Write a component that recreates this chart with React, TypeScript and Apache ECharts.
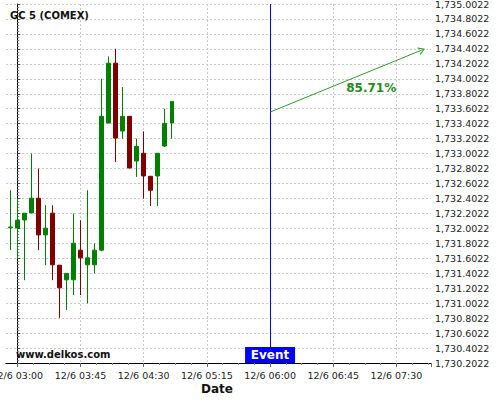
import React, { useEffect, useRef } from 'react';
import * as echarts from 'echarts';

// 5-minute candles, 12/6
const candleTimes = ['02:55','03:00','03:05','03:10','03:15','03:20','03:25','03:30','03:35','03:40','03:45','03:50','03:55','04:00','04:05','04:10','04:15','04:20','04:25','04:30','04:35','04:40','04:45','04:50'];
const opens  = [1732.010,1732.008,1732.115,1732.209,1732.405,1731.915,1732.205,1731.510,1731.314,1731.314,1731.711,1731.515,1731.515,1731.711,1733.411,1734.211,1733.304,1733.500,1732.903,1733.006,1732.699,1732.703,1733.103,1733.411];
const closes = [1732.020,1732.111,1732.205,1732.405,1731.915,1732.005,1731.515,1731.207,1731.400,1731.804,1731.608,1731.608,1731.711,1733.500,1734.211,1733.210,1733.500,1732.810,1733.099,1732.703,1732.512,1733.006,1733.406,1733.700];
const lows   = [1731.711,1731.600,1731.310,1732.205,1731.711,1731.510,1731.310,1730.807,1730.910,1731.110,1731.110,1730.999,1731.400,1731.697,1733.411,1732.890,1733.202,1732.802,1732.690,1732.401,1732.302,1732.302,1733.090,1733.202];
const highs  = [1732.512,1732.401,1732.205,1733.002,1732.802,1732.312,1732.312,1731.510,1731.400,1732.201,1732.111,1732.512,1731.800,1734.003,1734.301,1734.404,1733.891,1733.500,1733.202,1733.300,1732.700,1733.006,1733.602,1733.700];

const eventTime = '06:00';
const eventLabel = 'Event';
const arrowStart = { time: '06:00', price: 1733.557 };
const arrowEnd = { time: '07:48', price: 1734.386 };
const arrowText = '85.71%';
const arrowTextPos = { time: '07:12', price: 1733.874 };

const titleText = 'GC 5 (COMEX)';
const watermark = 'www.delkos.com';
const xAxisName = 'Date';
const datePrefix = '12/6';

const yMin = 1730.2022;
const yMax = 1735.002;
const yStep = 0.2;
const xTickStepMin = 45;

const BASE_MIN = 180; // 03:00 reference
const toMin = (t: string) => {
  const [h, m] = t.split(':').map(Number);
  return h * 60 + m - BASE_MIN;
};
const pad = (n: number) => (n < 10 ? '0' + n : '' + n);

const FONT = '"DejaVu Sans", sans-serif';

export default function App() {
  const ref = useRef<HTMLDivElement>(null);
  useEffect(() => {
    if (!ref.current) return;
    const chart = echarts.init(ref.current, undefined, { renderer: 'svg' });
    const candleData = candleTimes.map((t, i) => [toMin(t), opens[i], closes[i], lows[i], highs[i]]);
    const chevron = 'path://M5,0 L10,8 L9,8.9 L5,2.5 L1,8.9 L0,8 Z';
    const gridLine = { show: true, lineStyle: { color: '#c8c8c8', type: [2, 2], width: 1 } };

    chart.setOption({
      animation: false,
      textStyle: { fontFamily: FONT },
      grid: { left: -45.9, right: 69, top: 4, bottom: 37, outerBoundsMode: 'none', containLabel: false },
      xAxis: {
        type: 'value',
        min: -45,
        max: 294.6,
        interval: xTickStepMin,
        axisLine: { show: true, onZero: false, lineStyle: { color: '#000', width: 1 } },
        axisTick: { show: true, length: 4, lineStyle: { color: '#666' } },
        minorTick: { show: true, splitNumber: 4, length: 2, lineStyle: { color: '#888' } },
        minorSplitLine: { show: false },
        axisLabel: {
          show: true,
          fontSize: 9.5,
          color: '#222',
          fontFamily: FONT,
          margin: 7,
          showMinLabel: false,
          showMaxLabel: false,
          formatter: (v: number) => {
            if (v < -1 || v > 280) return '';
            const tot = BASE_MIN + Math.round(v);
            return `${datePrefix} ${pad(Math.floor(tot / 60))}:${pad(tot % 60)}`;
          },
        },
        splitLine: { ...gridLine, showMinLine: false, showMaxLine: false },
      },
      yAxis: {
        type: 'value',
        position: 'right',
        min: yMin,
        max: yMax,
        interval: yStep,
        scale: true,
        axisLine: { show: true, lineStyle: { color: '#000', width: 1 } },
        axisTick: { show: true, length: 3, lineStyle: { color: '#444' } },
        minorTick: { show: true, splitNumber: 5, length: 2, lineStyle: { color: '#888' } },
        axisLabel: {
          fontSize: 9.5,
          color: '#222',
          fontFamily: FONT,
          margin: 4,
          formatter: (v: number) => {
            const val = Math.round(v * 10) / 10 + 0.0022;
            return val.toLocaleString('en-US', { minimumFractionDigits: 4, maximumFractionDigits: 4 });
          },
        },
        splitLine: gridLine,
      },
      series: [
        {
          type: 'candlestick',
          data: candleData,
          encode: { x: 0, y: [1, 2, 3, 4] },
          barWidth: 4,
          silent: true,
          itemStyle: {
            color: '#008000',
            color0: '#800000',
            borderColor: '#008000',
            borderColor0: '#800000',
            borderWidth: 1,
          },
          markLine: {
            silent: true,
            symbol: ['none', 'none'],
            label: { show: false },
            animation: false,
            data: [
              { xAxis: toMin(eventTime), lineStyle: { color: '#0000ff', type: 'solid', width: 1 } },
              [
                { coord: [toMin(arrowStart.time), arrowStart.price], symbol: 'none', lineStyle: { color: '#2f9a2f', type: 'solid', width: 1 } },
                { coord: [toMin(arrowEnd.time), arrowEnd.price], symbol: chevron, symbolSize: [8, 7], lineStyle: { color: '#2f9a2f', type: 'solid', width: 1 } },
              ],
            ],
          },
          markPoint: {
            silent: true,
            animation: false,
            data: [
              {
                coord: [toMin(eventTime), yMin],
                symbol: 'rect',
                symbolSize: [50, 16],
                symbolOffset: [0, -8],
                itemStyle: { color: '#0000ff' },
                label: { show: true, position: 'inside', formatter: eventLabel, color: '#fff', fontWeight: 'bold', fontSize: 12, fontFamily: FONT },
              },
              {
                coord: [toMin(arrowTextPos.time), arrowTextPos.price],
                symbol: 'rect',
                symbolSize: 1,
                itemStyle: { color: 'rgba(0,0,0,0)' },
                label: { show: true, position: 'inside', formatter: arrowText, color: '#228b22', fontWeight: 'bold', fontSize: 12, fontFamily: FONT },
              },
            ],
          },
        },
      ],
      graphic: [
        { type: 'rect', x: 0, y: 0, shape: { width: 5.5, height: 366 }, style: { fill: '#fff' }, z: 50, silent: true },
        { type: 'text', x: 10, y: 10, style: { text: titleText, fontSize: 10, fontWeight: 'bold', fontFamily: FONT, fill: '#111' }, z: 60 },
        { type: 'text', x: 16, y: 349, style: { text: watermark, fontSize: 10, fontWeight: 'bold', fontFamily: FONT, fill: '#111' }, z: 60 },
        { type: 'text', x: 217, y: 389, style: { text: xAxisName, align: 'center', verticalAlign: 'middle', fontSize: 12, fontWeight: 'bold', fontFamily: FONT, fill: '#111' }, z: 60 },
      ],
    });
    return () => chart.dispose();
  }, []);
  return <div ref={ref} style={{ width: 500, height: 400, position: 'absolute', left: 0, top: 0 }} />;
}
